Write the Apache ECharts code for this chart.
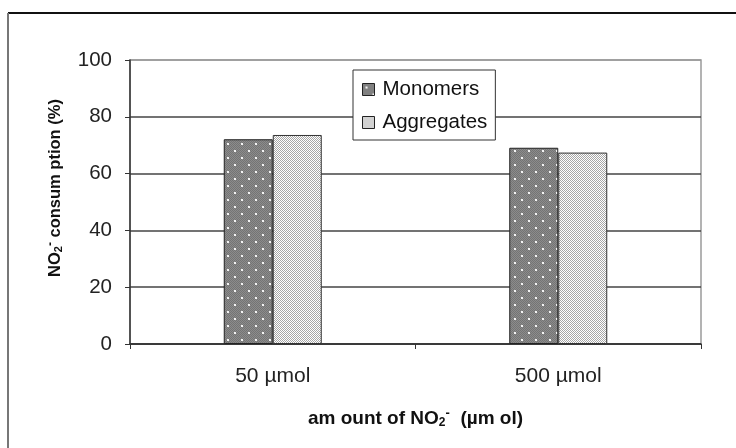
<!DOCTYPE html>
<html>
<head>
<meta charset="utf-8">
<script src="https://cdn.jsdelivr.net/npm/echarts@6/dist/echarts.min.js"></script>
<style>
  html, body { margin: 0; padding: 0; background: #fff; }
  #chart { width: 736px; height: 448px; }
</style>
</head>
<body>
<div id="chart"></div>
<script>
// NO2- consumption by amount of nitrite added
const categories = ['50 µmol', '500 µmol'];
const monomers = [72.1, 69.1];
const aggregates = [73.6, 67.4];
const yTicks = [0, 20, 40, 60, 80, 100];

// Dotted fills drawn into small repeating canvases
function makeTile(w, h, draw) {
  const c = document.createElement('canvas');
  c.width = w; c.height = h;
  draw(c.getContext('2d'), w, h);
  return c;
}
const darkDots = makeTile(14, 14, (g, w, h) => {
  g.fillStyle = '#8c8c8c';
  g.fillRect(0, 0, w, h);
  g.fillStyle = '#747474';
  for (let y = 0; y < h; y++)
    for (let x = 0; x < w; x++)
      if ((x + y) % 2 === 0) g.fillRect(x, y, 1, 1);
  g.fillStyle = '#f4f4f4';
  g.fillRect(3, 3, 2, 2);
  g.fillRect(10, 10, 2, 2);
});
const lightDots = makeTile(2, 2, (g, w, h) => {
  g.fillStyle = '#fff';
  g.fillRect(0, 0, w, h);
  g.fillStyle = '#a6a6a6';
  g.fillRect(0, 0, 1, 1);
  g.fillRect(1, 1, 1, 1);
});

const chart = echarts.init(document.getElementById('chart'), null, { renderer: 'canvas' });

const FONT = 'Liberation Sans, Arial, sans-serif';

chart.setOption({
  animation: false,
  backgroundColor: '#fff',
  graphic: [
    { type: 'line', shape: { x1: 8, y1: 13, x2: 736, y2: 13 }, style: { stroke: '#111', lineWidth: 2 } },
    { type: 'line', shape: { x1: 8, y1: 13, x2: 8, y2: 448 }, style: { stroke: '#777', lineWidth: 2 } }
  ],
  grid: {
    left: 130, right: 35, top: 60, bottom: 104,
    show: true, borderColor: '#9a9a9a', borderWidth: 1.5, backgroundColor: 'transparent'
  },
  legend: {
    orient: 'vertical',
    left: 353, top: 70,
    padding: [9, 8, 7, 9],
    itemGap: 12,
    itemWidth: 12, itemHeight: 12,
    backgroundColor: '#fff',
    borderColor: '#333', borderWidth: 1,
    textStyle: { fontFamily: FONT, fontSize: 20.5, color: '#111', padding: [0, 0, 0, 3] },
    itemStyle: { borderColor: '#222', borderWidth: 1 },
    data: [
      { name: 'Monomers', icon: 'rect' },
      { name: 'Aggregates', icon: 'rect' }
    ]
  },
  xAxis: {
    type: 'category',
    data: categories,
    axisLine: { lineStyle: { color: '#333', width: 1.5 } },
    axisTick: { show: true, length: 5, lineStyle: { color: '#333' } },
    axisLabel: { fontFamily: FONT, fontSize: 21, color: '#222', margin: 22 },
    name: '{s|am ount of NO}{sub|2}{sup|-}{s|  (µm ol)}',
    nameLocation: 'middle',
    nameGap: 63,
    nameTextStyle: {
      fontFamily: FONT, fontSize: 19, fontWeight: 'bold', color: '#111',
      rich: {
        s: { fontFamily: FONT, fontSize: 19, fontWeight: 'bold', color: '#111' },
        sub: { fontFamily: FONT, fontSize: 12, color: '#111', padding: [8, 0, 0, 0] },
        sup: { fontFamily: FONT, fontSize: 13, fontWeight: 'bold', color: '#111', padding: [0, 0, 10, 0] }
      }
    }
  },
  yAxis: {
    type: 'value',
    min: 0, max: 100, interval: 20,
    axisLine: { show: true, lineStyle: { color: '#333', width: 1.5 } },
    axisTick: { show: true, length: 5, lineStyle: { color: '#333' } },
    axisLabel: {
      fontFamily: FONT, fontSize: 20.5, color: '#222', margin: 18,
      formatter: v => (yTicks.indexOf(v) >= 0 ? String(v) : '')
    },
    splitLine: { show: true, lineStyle: { color: ['#333', '#444', '#444', '#444', '#444', '#9a9a9a'], width: 1.5 } },
    name: '{s|NO}{sub|2}{sup|-}{s| consum ption (%)}',
    nameLocation: 'middle',
    nameGap: 64,
    nameRotate: 90,
    nameTextStyle: {
      fontFamily: FONT, fontSize: 16.5, fontWeight: 'bold', color: '#111',
      padding: [0, 0, 0, 28],
      rich: {
        s: { fontFamily: FONT, fontSize: 16.5, fontWeight: 'bold', color: '#111' },
        sub: { fontFamily: FONT, fontSize: 11, color: '#111', padding: [7, 0, 0, 0] },
        sup: { fontFamily: FONT, fontSize: 12, fontWeight: 'bold', color: '#111', padding: [0, 0, 9, 0] }
      }
    }
  },
  series: [
    {
      name: 'Monomers',
      type: 'bar',
      data: monomers,
      barWidth: 49,
      barGap: '0%',
      itemStyle: { color: { image: darkDots, repeat: 'repeat' }, borderColor: '#222', borderWidth: 1 }
    },
    {
      name: 'Aggregates',
      type: 'bar',
      data: aggregates,
      barWidth: 49,
      barGap: '0%',
      itemStyle: { color: { image: lightDots, repeat: 'repeat' }, borderColor: '#333', borderWidth: 1 }
    }
  ]
});
</script>
</body>
</html>
